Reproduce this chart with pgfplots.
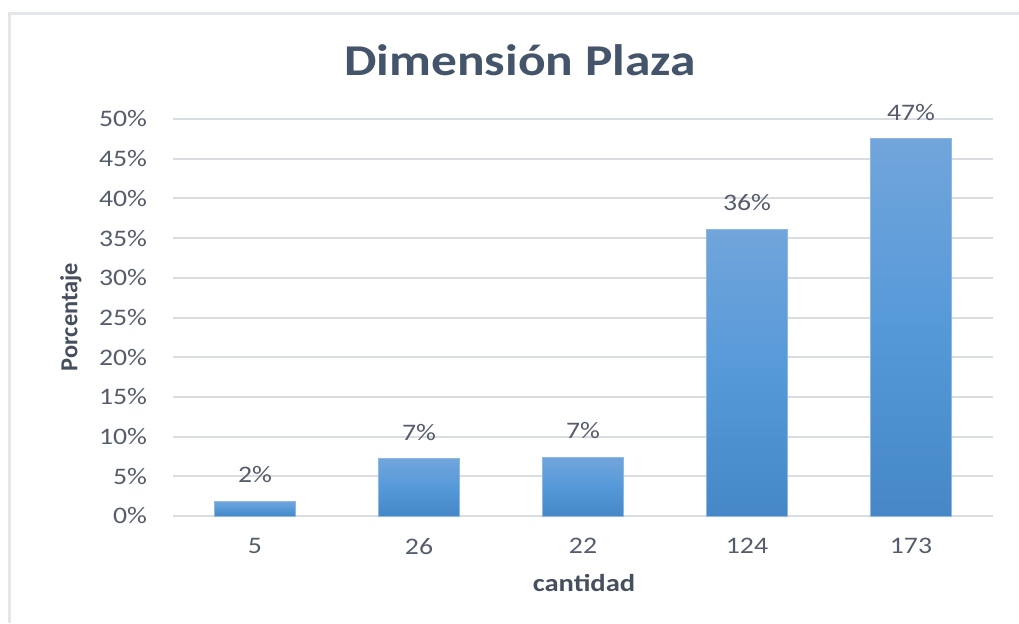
\documentclass[border=0pt]{standalone}
\usepackage{pgfplots}
\pgfplotsset{compat=1.18}
\usepackage{fontspec}
\setmainfont{Carlito}[FakeStretch=1.17]
\newfontfamily\ylabfont{Carlito}
\definecolor{gridgray}{HTML}{D9DCE1}
\definecolor{framegray}{HTML}{E3E6EB}
\definecolor{titlecol}{HTML}{44546A}
\definecolor{labcol}{HTML}{454F5E}
\definecolor{tickcol}{HTML}{555D6C}
\definecolor{bartop}{HTML}{71A5DB}
\definecolor{barmid}{HTML}{5699D9}
\definecolor{barbot}{HTML}{4587C7}
\definecolor{barbord}{HTML}{8DB8E4}
\begin{document}
\begin{tikzpicture}
\useasboundingbox (0pt,0pt) rectangle (509.5pt,311.5pt);
\draw[framegray, line width=1.5pt] (4.75pt,0pt) -- (4.75pt,304.75pt) -- (509.5pt,304.75pt);
\begin{axis}[
  at={(86.5pt,53.5pt)}, anchor=south west,
  scale only axis, width=410pt, height=198.5pt,
  xmin=-0.5, xmax=4.5, ymin=0, ymax=50,
  ybar, bar width=40.5pt,
  xtick={0,1,2,3,4},
  xticklabels={5,26,22,124,173},
  ytick={0,5,...,50},
  yticklabel={\pgfmathprintnumber{\tick}\%},
  /pgf/number format/assume math mode=true,
  ymajorgrids,
  grid style={gridgray, line width=1pt},
  axis x line*=bottom, axis y line*=left,
  x axis line style={gridgray, line width=1pt, -},
  y axis line style={draw=none},
  major tick length=0pt,
  tick label style={font=\fontsize{11.85}{14}\selectfont, text=tickcol},
  xticklabel style={yshift=-7.5pt},
  yticklabel style={xshift=-9.5pt},
  point meta=explicit symbolic,
  nodes near coords={\pgfplotspointmeta},
  every node near coord/.style={font=\fontsize{11.85}{14}\selectfont, text=tickcol, anchor=south, inner sep=0pt, yshift=9pt},
  clip=false,
  mybar/.style={draw=barbord, line width=0.5pt, top color=bartop, bottom color=barbot, middle color=barmid, bar shift=0pt},
]
\addplot[mybar] coordinates {(0,1.85) [2\%]};
\addplot[mybar] coordinates {(1,7.2) [7\%]};
\addplot[mybar] coordinates {(2,7.4) [7\%]};
\addplot[mybar] coordinates {(3,36.1) [36\%]};
\addplot[mybar] coordinates {(4,47.5) [47\%]};
\end{axis}
\node[anchor=base, text=titlecol, font=\fontsize{22}{26}\selectfont\bfseries] at (260pt,273.5pt) {Dimensión Plaza};
\node[rotate=90, text=labcol, font=\ylabfont\fontsize{12.2}{14}\selectfont\bfseries] at (35.5pt,153pt) {Porcentaje};
\node[text=labcol, font=\fontsize{12.2}{14}\selectfont\bfseries] at (292pt,20pt) {cantidad};
\end{tikzpicture}
\end{document}
